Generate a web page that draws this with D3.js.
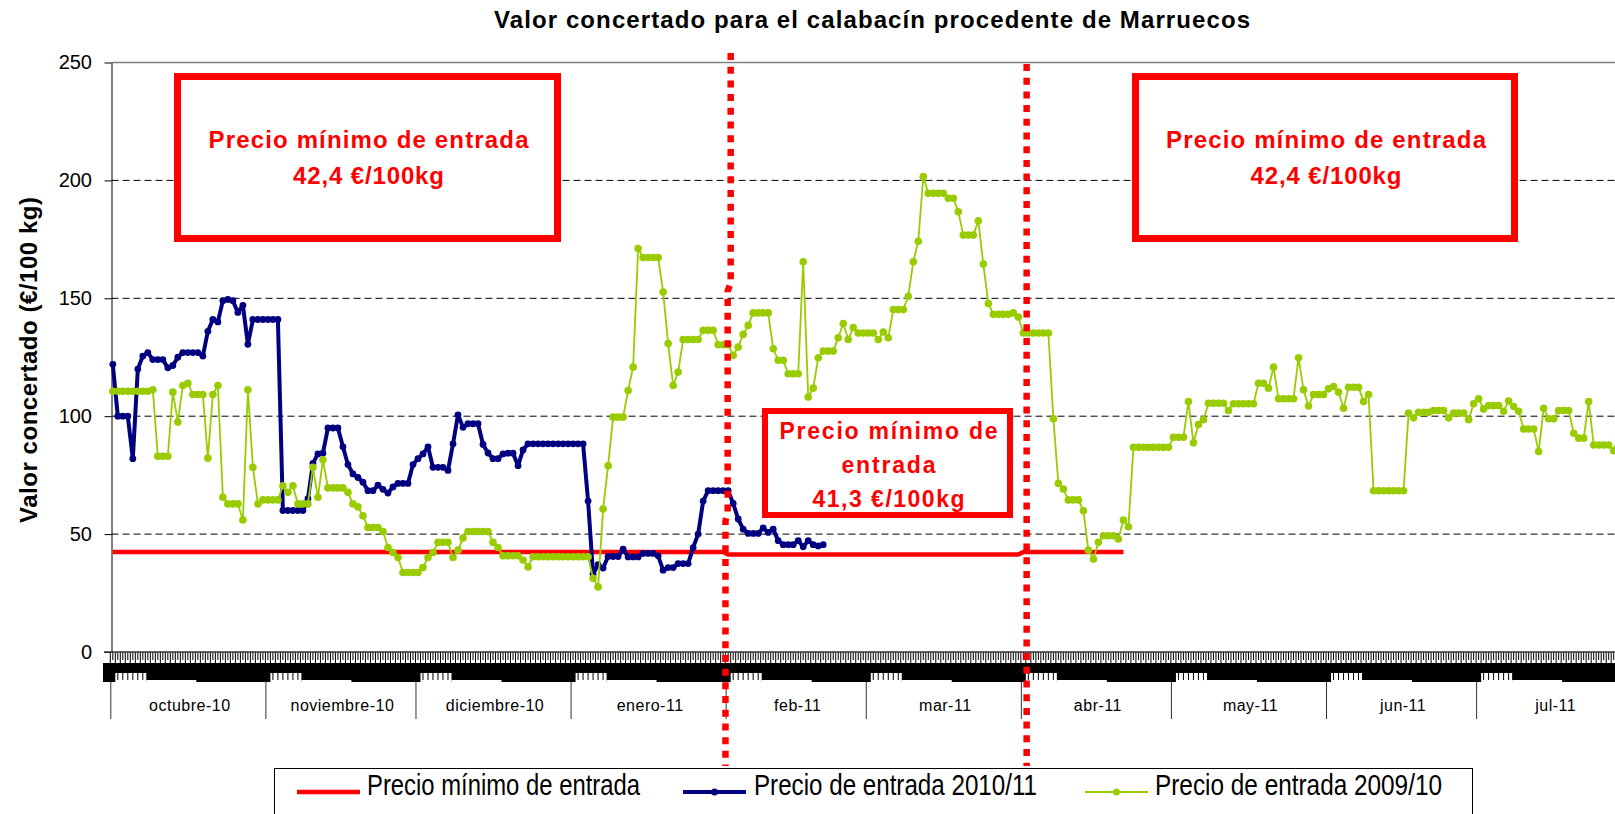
<!DOCTYPE html>
<meta charset="utf-8">
<title>Valor concertado para el calabacín procedente de Marruecos</title>
<!-- Load d3.js -->
<script src="https://d3js.org/d3.v7.min.js"></script>

<style>
body {margin: 0; background: #fff;}
svg {display: block; font-family: "Liberation Sans", Arial, sans-serif;}
</style>

<body>
<div id="my_dataviz"></div>

<script>
// daily categories, 1 Oct 2010 - 31 Jul 2011
var fmt = d3.timeFormat("%Y-%m-%d");
var days = d3.timeDay.range(new Date(2010, 9, 1), new Date(2011, 7, 1)).map(fmt);

var monthStarts = ["2010-10-01", "2010-11-01", "2010-12-01", "2011-01-01", "2011-02-01",
                   "2011-03-01", "2011-04-01", "2011-05-01", "2011-06-01", "2011-07-01"];
var monthLabels = ["octubre-10", "noviembre-10", "diciembre-10", "enero-11", "feb-11",
                   "mar-11", "abr-11", "may-11", "jun-11", "jul-11"];

var yTicks = [0, 50, 100, 150, 200, 250];

// Precio mínimo de entrada (steps)
var minPriceDates = ["2010-10-01", "2011-01-31", "2011-02-01", "2011-03-31", "2011-04-01", "2011-04-21"];
var minPriceValues = [42.4, 42.4, 41.3, 41.3, 42.4, 42.4];

// Precio de entrada 2010/11, one value per day from 1 Oct
var price2010 = [
  122, 100, 100, 100, 82, 120, 125.5, 127, 124, 124,
  124, 120.5, 121.5, 125, 127, 127, 127, 127, 125.5, 136,
  141, 140, 149, 149.5, 149, 144, 147, 130.5, 141, 141,
  141, 141, 141, 141, 60, 60, 60, 60, 60, 65,
  80, 84, 84.3, 95, 95, 95, 87, 79.5, 75.5, 74,
  72, 68.4, 68.4, 70.8, 69, 67.4, 70, 71.5, 71.5, 71.5,
  79.5, 82, 84, 87, 78.3, 78.3, 78.3, 77, 88.3, 100.6,
  95.3, 96.8, 96.8, 96.8, 88, 84.4, 82, 82, 84, 84.3,
  84.3, 79, 85.7, 88.3, 88.3, 88.3, 88.3, 88.3, 88.3, 88.3,
  88.3, 88.3, 88.3, 88.3, 88.3, 64, 33, 37, 35.6, 40.5,
  40.5, 40.5, 43.6, 40.3, 40.3, 40.3, 41.8, 41.8, 41.8, 40.8,
  34.7, 35.8, 35.8, 37.5, 37.5, 37.5, 44.3, 50, 64, 68.4,
  68.4, 68.4, 68.4, 68.4, 63, 56.4, 52.1, 50.3, 50.3, 50.3,
  52.6, 50.7, 52.1, 47.2, 45.5, 45.5, 45.5, 47.2, 44.6, 47.2,
  45.5, 45, 45.5
];

// Precio de entrada 2009/10, one value per day from 1 Oct
var price2009 = [
  110.6, 110.6, 110.6, 110.6, 110.6, 110.6, 110.6, 110.6, 111.2, 83,
  83, 83, 110.2, 97.5, 113, 114, 109.2, 109.2, 109.2, 82.2,
  109.2, 113, 65.6, 62.8, 62.8, 62.8, 56, 111.2, 78.3, 62.8,
  64.5, 64.5, 64.5, 64.5, 70.5, 67.7, 70.5, 62.8, 62.8, 62.8,
  78.3, 65.6, 81.5, 69.6, 69.6, 69.6, 69.6, 67.7, 62.8, 61.6,
  57.8, 52.8, 52.8, 52.8, 51.1, 44.3, 42.2, 40.1, 33.7, 33.7,
  33.7, 33.7, 35.8, 40.1, 42.2, 46.5, 46.5, 46.5, 40.1, 43.2,
  48.3, 51.1, 51.1, 51.1, 51.1, 51.1, 46.5, 44.3, 40.8, 40.8,
  40.8, 40.8, 39, 36.1, 40.4, 40.4, 40.4, 40.4, 40.4, 40.4,
  40.4, 40.4, 40.4, 40.4, 40.4, 40.4, 31.3, 27.6, 60.6, 79,
  99.6, 99.6, 99.6, 110.9, 120.8, 171.1, 167.3, 167.3, 167.3, 167.3,
  152.7, 130.8, 113, 118.7, 132.5, 132.5, 132.5, 132.5, 136.4, 136.4,
  136.4, 130.3, 130.3, 130.3, 125.8, 129.3, 134.7, 138.5, 143.8, 143.8,
  143.8, 143.8, 128.6, 123.7, 123.7, 118, 118, 118, 165.5, 108.1,
  111.9, 124.8, 127.6, 127.6, 127.6, 133.3, 139.3, 132.5, 137.6, 135.3,
  135.3, 135.3, 135.3, 132.5, 135.7, 133.3, 145.2, 145.2, 145.2, 150.9,
  165.5, 174.2, 201.6, 194.5, 194.5, 194.5, 194.5, 192.4, 192.4, 186.7,
  176.8, 176.8, 176.8, 182.9, 164.5, 147.8, 143.2, 143.2, 143.2, 143.2,
  143.8, 142.1, 135.3, 135.3, 135.3, 135.3, 135.3, 135.3, 98.9, 71.5,
  69.1, 64.5, 64.5, 64.5, 59.9, 43.2, 39.4, 46.5, 49.3, 49.3,
  49.3, 47.9, 56, 53.1, 86.8, 86.8, 86.8, 86.8, 86.8, 86.8,
  86.8, 86.8, 91.1, 91.1, 91.1, 106.2, 88.7, 96.5, 98.5, 105.5,
  105.5, 105.5, 105.5, 102.4, 105.3, 105.3, 105.3, 105.3, 105.3, 114,
  114, 111.9, 120.8, 107.4, 107.4, 107.4, 107.4, 124.8, 111.2, 104.3,
  109.2, 109.2, 109.2, 111.6, 112.6, 110.2, 103.4, 112.3, 112.3, 112.3,
  106.2, 109.2, 68.4, 68.4, 68.4, 68.4, 68.4, 68.4, 68.4, 101.3,
  99.3, 101.7, 101.7, 101.7, 102.4, 102.4, 102.4, 99.3, 101.3, 101.3,
  101.3, 98.5, 105.3, 107.4, 103.1, 104.5, 104.5, 104.5, 102.1, 106.4,
  104.1, 102.1, 94.6, 94.6, 94.6, 85, 103.4, 98.9, 98.9, 102.4,
  102.4, 102.4, 92.8, 90.7, 90.7, 106.2, 87.8, 87.8, 87.8, 87.8,
  85.4, 92
];

var RED = "#ff0000", NAVY = "#000080", GREEN = "#99cc00";
var width = 1615, height = 814;

// append the svg object to the body of the page
var svg = d3.select("#my_dataviz")
  .append("svg")
    .attr("width", width)
    .attr("height", height);

// scales
var x = d3.scaleBand()
  .domain(days)
  .range([110.3, 110.3 + days.length * 5.003]);
var y = d3.scaleLinear()
  .domain([0, 250])
  .range([652, 62.5]);
var cx = function(d) { return x(d) + x.bandwidth() / 2; };

// Title
svg.append("text")
  .attr("x", 872).attr("y", 27.5)
  .attr("text-anchor", "middle")
  .attr("textLength", 756).attr("lengthAdjust", "spacing")
  .style("font-size", "24px").style("font-weight", "bold")
  .text("Valor concertado para el calabacín procedente de Marruecos");

// Y label
svg.append("text")
  .attr("transform", "translate(36.5,360) rotate(-90)")
  .attr("text-anchor", "middle")
  .attr("textLength", 326).attr("lengthAdjust", "spacing")
  .style("font-size", "24px").style("font-weight", "bold")
  .text("Valor concertado (€/100 kg)");

// grid lines
svg.append("g")
  .selectAll("line")
  .data(yTicks.filter(function(d) { return d > 0 && d < 250; }))
  .enter()
  .append("line")
    .attr("x1", 111.5).attr("x2", width)
    .attr("y1", function(d) { return y(d); })
    .attr("y2", function(d) { return y(d); })
    .attr("stroke", "#000").attr("stroke-width", 1)
    .attr("stroke-dasharray", "7,4");
svg.append("line")
  .attr("x1", 111.5).attr("x2", width)
  .attr("y1", y(250)).attr("y2", y(250))
  .attr("stroke", "#808080").attr("stroke-width", 1.5);

// Y axis
var yAxis = svg.append("g")
  .attr("transform", "translate(111.5,0)")
  .call(d3.axisLeft(y).tickValues(yTicks).tickSize(7).tickSizeOuter(0).tickPadding(12.5));
yAxis.select(".domain").attr("stroke", "#000");
yAxis.selectAll(".tick line").attr("stroke", "#000");
yAxis.selectAll("text")
  .style("font-size", "20px")
  .style("font-family", "'Liberation Sans', Arial, sans-serif")
  .attr("fill", "#000");

// X axis: daily ticks, dense day-label band, month groups
var xa = svg.append("g");
xa.append("rect").attr("x", 103).attr("y", 663).attr("width", width - 103).attr("height", 19).attr("fill", "#000");
xa.selectAll(".dtick")
  .data(days)
  .enter()
  .append("line")
    .attr("x1", function(d) { return x(d); }).attr("x2", function(d) { return x(d); })
    .attr("y1", 652).attr("y2", 663)
    .attr("stroke", "#000").attr("stroke-width", 1);
xa.selectAll(".htick")
  .data(days)
  .enter()
  .append("line")
    .attr("x1", function(d) { return cx(d); }).attr("x2", function(d) { return cx(d); })
    .attr("y1", 652).attr("y2", 660)
    .attr("stroke", "#000").attr("stroke-width", 1);
xa.append("line")
  .attr("x1", 104).attr("x2", width)
  .attr("y1", 652).attr("y2", 652)
  .attr("stroke", "#333").attr("stroke-width", 1.5);

monthStarts.forEach(function(m, k) {
  var xs = x(m);
  var xe = k + 1 < monthStarts.length ? x(monthStarts[k + 1]) : x.range()[1];
  // lighter window in the label band
  xa.append("rect").attr("x", xs + 5).attr("y", 673).attr("width", 31).attr("height", 9.5).attr("fill", "#fff");
  xa.append("rect").attr("x", xs + 36).attr("y", 680).attr("width", 50).attr("height", 2.5).attr("fill", "#fff");
  for (var t = 0; t < 6; t++) {
    xa.append("line")
      .attr("x1", xs + 7.5 + t * 5).attr("x2", xs + 7.5 + t * 5)
      .attr("y1", 673).attr("y2", 680)
      .attr("stroke", "#000").attr("stroke-width", 1);
  }
  xa.append("line")
    .attr("x1", xs + 0.5).attr("x2", xs + 0.5)
    .attr("y1", 682).attr("y2", 719)
    .attr("stroke", "#333").attr("stroke-width", 1);
  xa.append("text")
    .attr("x", (xs + xe) / 2 + 2).attr("y", 711)
    .attr("text-anchor", "middle")
    .style("font-size", "16px").style("letter-spacing", "0.5px")
    .text(monthLabels[k]);
});

// Precio mínimo de entrada
var minLine = d3.line()
  .x(function(d) { return cx(d[0]); })
  .y(function(d) { return y(d[1]); });
svg.append("path")
  .datum(d3.zip(minPriceDates, minPriceValues))
  .attr("fill", "none")
  .attr("stroke", RED)
  .attr("stroke-width", 4.5)
  .attr("d", minLine);

// Series with markers
var line = d3.line()
  .x(function(d, i) { return cx(days[i]); })
  .y(function(d) { return y(d); });

function addSeries(values, color, lw, r) {
  svg.append("path")
    .datum(values)
    .attr("fill", "none")
    .attr("stroke", color)
    .attr("stroke-width", lw)
    .attr("stroke-linejoin", "round")
    .attr("d", line);
  svg.append("g")
    .selectAll("circle")
    .data(values)
    .enter()
    .append("circle")
      .attr("cx", function(d, i) { return cx(days[i]); })
      .attr("cy", function(d) { return y(d); })
      .attr("r", r)
      .attr("fill", color);
}
addSeries(price2010, NAVY, 4, 3.4);
addSeries(price2009, GREEN, 1.8, 3.8);

// annotation boxes
function addBox(x0, y0, w, h, sw, lines, fs) {
  svg.append("rect")
    .attr("x", x0 + sw / 2).attr("y", y0 + sw / 2)
    .attr("width", w - sw).attr("height", h - sw)
    .attr("fill", "#fff")
    .attr("stroke", RED).attr("stroke-width", sw);
  lines.forEach(function(l) {
    svg.append("text")
      .attr("x", x0 + w / 2 + 1).attr("y", l[1])
      .attr("text-anchor", "middle")
      .attr("textLength", l[2]).attr("lengthAdjust", "spacing")
      .attr("fill", RED)
      .style("font-size", fs + "px").style("font-weight", "bold")
      .text(l[0]);
  });
}
addBox(174, 73, 387, 169, 7, [["Precio mínimo de entrada", 148.3, 320], ["42,4 €/100kg", 184, 151]], 24);
addBox(1132, 73, 386, 169, 7, [["Precio mínimo de entrada", 148.3, 320], ["42,4 €/100kg", 184, 151]], 24);
addBox(762, 408, 251, 110, 6, [["Precio mínimo de", 439.3, 218], ["entrada", 473.3, 94], ["41,3 €/100kg", 507.3, 152]], 23);

// red dotted markers (start of feb-11 and abr-11)
var xf = x("2011-02-01");
svg.append("path")
  .attr("d", "M" + (xf + 5) + ",53V283L" + (xf + 2) + ",291V513L" + (xf - 0.2) + ",521V766")
  .attr("fill", "none")
  .attr("stroke", RED).attr("stroke-width", 6.5)
  .attr("stroke-dasharray", "7,6.7");
var xb = x("2011-04-02") + 0.8;
svg.append("line")
  .attr("x1", xb).attr("x2", xb)
  .attr("y1", 64).attr("y2", 766)
  .attr("stroke", RED).attr("stroke-width", 6.5)
  .attr("stroke-dasharray", "7,6.7");

// Legend
var lg = svg.append("g");
lg.append("rect")
  .attr("x", 274.5).attr("y", 768.5)
  .attr("width", 1198).attr("height", 60)
  .attr("fill", "#fff").attr("stroke", "#000").attr("stroke-width", 1);
var legendItems = [
  {label: "Precio mínimo de entrada", color: RED, lw: 4.5, r: 0, x0: 297, tx: 367, tl: 273},
  {label: "Precio de entrada 2010/11", color: NAVY, lw: 4, r: 3.5, x0: 683, tx: 754, tl: 283},
  {label: "Precio de entrada 2009/10", color: GREEN, lw: 2, r: 3.5, x0: 1085, tx: 1155, tl: 287}
];
legendItems.forEach(function(it) {
  lg.append("line")
    .attr("x1", it.x0).attr("x2", it.x0 + 63)
    .attr("y1", 792).attr("y2", 792)
    .attr("stroke", it.color).attr("stroke-width", it.lw);
  if (it.r > 0) {
    lg.append("circle").attr("cx", it.x0 + 31.5).attr("cy", 792).attr("r", it.r).attr("fill", it.color);
  }
  lg.append("text")
    .attr("transform", "translate(" + it.tx + ",795) scale(1,1.2)")
    .attr("textLength", it.tl).attr("lengthAdjust", "spacingAndGlyphs")
    .style("font-size", "24px")
    .text(it.label);
});
</script>
